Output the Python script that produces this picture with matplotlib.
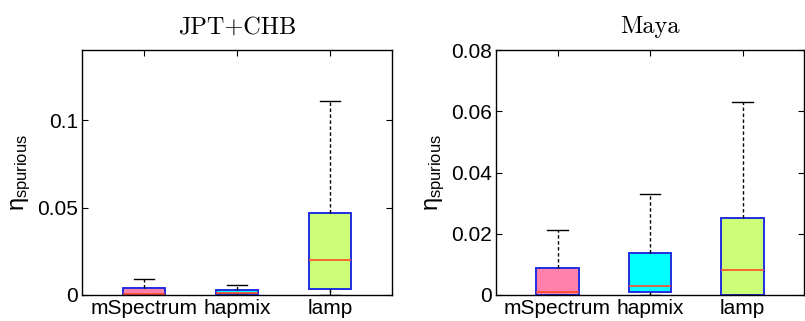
import matplotlib
matplotlib.use('Agg')
import matplotlib.pyplot as plt

plt.rcParams['font.family'] = ['Liberation Sans', 'DejaVu Sans']
plt.rcParams['mathtext.fontset'] = 'custom'
plt.rcParams['mathtext.rm'] = 'Liberation Sans'
plt.rcParams['mathtext.it'] = 'Liberation Sans'
plt.rcParams['mathtext.bf'] = 'Liberation Sans:bold'

methods = ['mSpectrum', 'hapmix', 'lamp']
colors = ['#ff80aa', '#00ffff', '#ccff77']

# JPT+CHB: whislo, q1, med, q3, whishi
jpt_lo = [0.0, 0.0, 0.0]
jpt_q1 = [0.0, 0.0004, 0.0034]
jpt_med = [0.0003, 0.0014, 0.0200]
jpt_q3 = [0.0038, 0.0029, 0.0467]
jpt_hi = [0.0090, 0.0057, 0.1110]

# Maya
maya_lo = [0.0, 0.0, 0.0]
maya_q1 = [0.0, 0.0011, 0.0]
maya_med = [0.0009, 0.0030, 0.0083]
maya_q3 = [0.0087, 0.0137, 0.0251]
maya_hi = [0.0213, 0.0331, 0.0630]


def panel(ax, title, lo, q1, med, q3, hi, ylim, yticks, yticklabels):
    stats = []
    for i in range(3):
        stats.append(dict(whislo=lo[i], q1=q1[i], med=med[i], q3=q3[i],
                          whishi=hi[i], fliers=[], label=methods[i]))
    bp = ax.bxp(stats, positions=[1, 2, 3], widths=0.46, patch_artist=True,
                capwidths=0.22, showfliers=False,
                boxprops=dict(edgecolor='#1f2fe0', linewidth=1.4),
                medianprops=dict(color='#ff4a2a', linewidth=1.2),
                whiskerprops=dict(color='black', linestyle=(0, (2.5, 1.8)), linewidth=1.0),
                capprops=dict(color='black', linewidth=1.0))
    for patch, c in zip(bp['boxes'], colors):
        patch.set_facecolor(c)
    ax.set_xlim(1 / 3, 11 / 3)
    ax.set_ylim(*ylim)
    ax.set_yticks(yticks)
    ax.set_yticklabels(yticklabels)
    ax.set_xticks([1, 2, 3])
    ax.set_xticklabels(methods)
    ax.tick_params(direction='in', top=True, right=True, labelsize=15,
                   length=4, width=0.8, pad=3)
    for s in ax.spines.values():
        s.set_linewidth(1.0)
    ax.set_title(title, family='cmr10', fontsize=17.5, pad=12)
    ax.set_ylabel(r'$\eta_{\mathrm{spurious}}$', fontsize=17, labelpad=3)


fig = plt.figure(figsize=(8.05, 3.21), dpi=100)
ax1 = fig.add_axes([0.102, 0.081, 0.385, 0.763])
ax2 = fig.add_axes([0.616, 0.081, 0.383, 0.763])

panel(ax1, 'JPT+CHB', jpt_lo, jpt_q1, jpt_med, jpt_q3, jpt_hi,
      (0, 0.14), [0, 0.05, 0.1], ['0', '0.05', '0.1'])
panel(ax2, 'Maya', maya_lo, maya_q1, maya_med, maya_q3, maya_hi,
      (0, 0.08), [0, 0.02, 0.04, 0.06, 0.08], ['0', '0.02', '0.04', '0.06', '0.08'])

fig.savefig('out.png', dpi=100)
